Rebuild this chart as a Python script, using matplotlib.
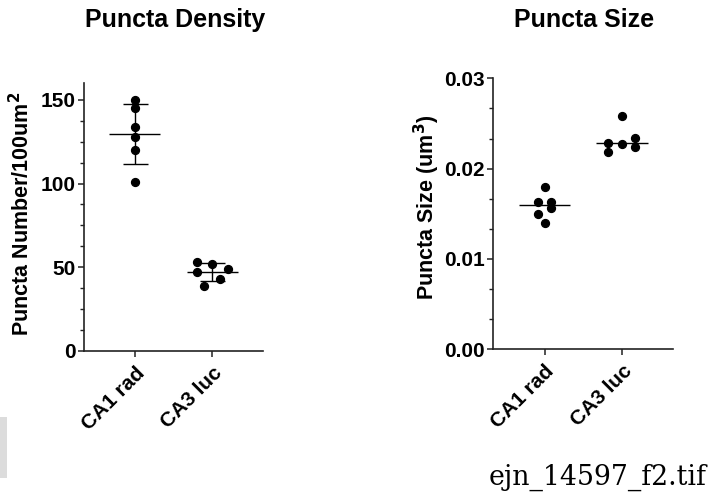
import numpy as np
import matplotlib
matplotlib.use("Agg")
import matplotlib.pyplot as plt
from matplotlib.patches import Rectangle
from matplotlib.ticker import MultipleLocator

categories = ["CA1 rad", "CA3 luc"]

# Panel A: Puncta density (mean ± SD)
density_ca1 = [150, 145, 134, 128, 120, 101]
density_ca1_x = [0, 0, 0, 0, 0, 0]
density_ca3 = [53.0, 51.8, 49.0, 47.2, 42.8, 38.9]
density_ca3_x = [-0.2, 0.0, 0.2, -0.2, 0.1, -0.1]

# Panel B: Puncta size (median)
size_ca1 = [0.0180, 0.0163, 0.0163, 0.0150, 0.0156, 0.0140]
size_ca1_x = [0.0, -0.087, 0.087, -0.087, 0.087, 0.0]
size_ca3 = [0.02586, 0.02287, 0.0227, 0.02343, 0.0218, 0.02236]
size_ca3_x = [0.0, -0.176, 0.0, 0.17, -0.176, 0.17]

W, H = 709, 495
fig = plt.figure(figsize=(W / 100, H / 100), dpi=100)
plt.rcParams['font.family'] = ['Liberation Sans', 'DejaVu Sans']

def px_axes(x0, y0, x1, y1):
    return fig.add_axes([x0 / W, 1 - y1 / H, (x1 - x0) / W, (y1 - y0) / H])

ax1 = px_axes(84, 83, 263, 351)
ax2 = px_axes(493.3, 78.3, 673.3, 349.3)

TICKFS = 15

def style(ax):
    for s in ["top", "right"]:
        ax.spines[s].set_visible(False)
    for s in ["left", "bottom"]:
        ax.spines[s].set_linewidth(1.2)
        ax.spines[s].set_color("#222222")
    ax.tick_params(axis="both", which="major", direction="out", length=4, width=1.1,
                   color="#222222", labelsize=TICKFS, pad=2)
    ax.tick_params(axis="y", which="minor", direction="out", length=3, width=1.0, color="#222222")
    ax.set_xlim(-0.66, 1.66)
    ax.set_xticks([0, 1])
    ax.set_xticklabels(categories, rotation=45, ha="right", va="top",
                       rotation_mode="anchor", fontweight="bold", fontsize=TICKFS)
    ax.tick_params(axis="x", pad=5)
    for lab in ax.get_yticklabels():
        lab.set_fontweight("bold")

# Left panel
ax1.scatter(density_ca1_x, density_ca1, s=32, color="black", zorder=3)
ax1.scatter(1 + np.array(density_ca3_x), density_ca3, s=32, color="black", zorder=3)
for i, vals in enumerate([density_ca1, density_ca3]):
    m = np.mean(vals)
    sd = np.std(vals, ddof=1)
    ax1.hlines(m, i - 0.33, i + 0.33, color="black", lw=1.0, zorder=2)
    ax1.errorbar(i, m, yerr=sd, fmt="none", ecolor="black", elinewidth=1.0,
                 capsize=9, capthick=1.0, zorder=2)
ax1.set_ylim(0, 160)
ax1.yaxis.set_major_locator(MultipleLocator(50))
ax1.yaxis.set_minor_locator(MultipleLocator(12.5))
style(ax1)
ax1.set_ylabel("Puncta Number/100um$^\\mathbf{2}$", fontsize=15.5, fontweight="bold", va="center")
ax1.yaxis.set_label_coords(-0.346, 0.511)

# Right panel
ax2.scatter(size_ca1_x, size_ca1, s=32, color="black", zorder=3)
ax2.scatter(1 + np.array(size_ca3_x), size_ca3, s=32, color="black", zorder=3)
for i, vals in enumerate([size_ca1, size_ca3]):
    med = np.median(vals)
    ax2.hlines(med, i - 0.33, i + 0.33, color="black", lw=1.0, zorder=2)
ax2.set_ylim(0, 0.03)
ax2.set_yticks([0, 0.01, 0.02, 0.03])
ax2.set_yticklabels(["0.00", "0.01", "0.02", "0.03"])
ax2.yaxis.set_minor_locator(MultipleLocator(0.01 / 3))
style(ax2)
ax2.set_ylabel("Puncta Size (um$^\\mathbf{3}$)", fontsize=15.5, fontweight="bold", va="center")
ax2.yaxis.set_label_coords(-0.37, 0.525)

# Titles
fig.text(175 / W, 1 - 20 / H, "Puncta Density", ha="center", va="center",
         fontsize=18, fontweight="bold")
fig.text(584 / W, 1 - 20 / H, "Puncta Size", ha="center", va="center",
         fontsize=18, fontweight="bold")

# Footer file name
fig.text(707 / W, 1 - 485 / H, "ejn_14597_f2.tif", ha="right", va="baseline",
         fontsize=19.3, family=["DejaVu Serif"])

# light grey artifact at the lower left edge
fig.patches.append(Rectangle((0, 1 - 478 / H), 7 / W, 61 / H, transform=fig.transFigure,
                             facecolor="#dcdcdc", edgecolor="none"))

fig.savefig("out.png", dpi=100)
